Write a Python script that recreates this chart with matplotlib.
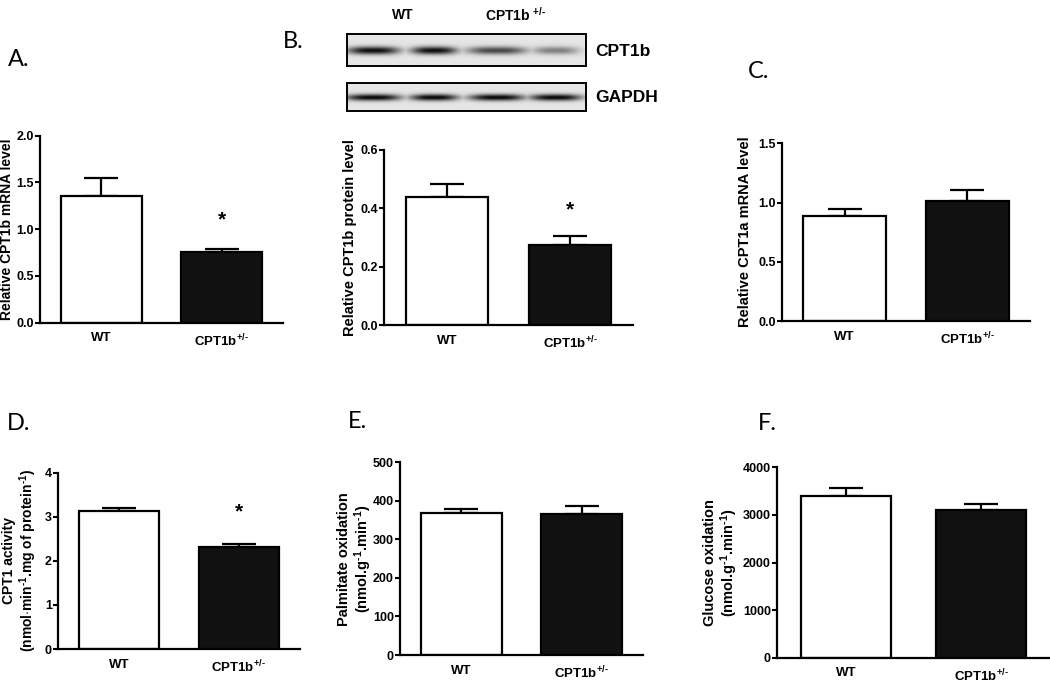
import numpy as np
import matplotlib
matplotlib.use("Agg")
import matplotlib.pyplot as plt

plt.rcParams["font.family"] = ["Liberation Sans", "DejaVu Sans"]
plt.rcParams["font.weight"] = "bold"
plt.rcParams["mathtext.fontset"] = "custom"
plt.rcParams["mathtext.rm"] = "Liberation Sans:bold"
plt.rcParams["mathtext.bf"] = "Liberation Sans:bold"
plt.rcParams["mathtext.default"] = "bf"

# ---- data ----
groups = ["WT", "CPT1b$^{+/\\text{-}}$"]

cpt1b_mrna = [1.36, 0.755]
cpt1b_mrna_err = [0.19, 0.033]

cpt1b_protein = [0.44, 0.274]
cpt1b_protein_err = [0.042, 0.032]

cpt1a_mrna = [0.889, 1.013]
cpt1a_mrna_err = [0.054, 0.09]

cpt1_activity = [3.13, 2.32]
cpt1_activity_err = [0.06, 0.06]

palmitate_ox = [369, 367]
palmitate_ox_err = [10, 19]

glucose_ox = [3397, 3103]
glucose_ox_err = [162, 126]

# western blot band intensities (relative darkness per lane)
cpt1b_bands = [0.95, 0.95, 0.70, 0.45]
gapdh_bands = [1.0, 1.0, 1.0, 1.0]

# ---- layout (pixels in a 1050x687 figure) ----
W, H = 1050, 687


def px_axes(left, right, top, bottom):
    return [left / W, (H - bottom) / H, (right - left) / W, (bottom - top) / H]


fig = plt.figure(figsize=(10.5, 6.87), dpi=100)


def bar_panel(rect, vals, errs, ylim, yticks, ylabel, yfmt, label_x,
              star=None, ylabel_size=10.5):
    ax = fig.add_axes(rect)
    x = np.arange(len(vals))
    ax.bar(x, vals, width=0.67, color=["white", "#111111"],
           edgecolor="black", linewidth=1.6, zorder=2)
    ax.errorbar(x, vals, yerr=[[0] * len(errs), errs], fmt="none",
                ecolor="black", elinewidth=1.6, capsize=12, capthick=1.6,
                zorder=1)
    if star is not None:
        ax.text(1, star, "*", ha="center", va="center", fontsize=15,
                fontweight="bold")
    ax.set_xlim(-0.51, 1.51)
    ax.set_ylim(*ylim)
    ax.set_yticks(yticks)
    ax.set_yticklabels([yfmt.format(t) for t in yticks])
    ax.set_xticks(x)
    ax.set_xticklabels(groups, fontsize=9.5, fontweight="bold")
    ax.tick_params(axis="x", length=0, pad=7)
    ax.tick_params(axis="y", length=3.5, width=1.5, pad=1, labelsize=9)
    for s in ["top", "right"]:
        ax.spines[s].set_visible(False)
    for s in ["left", "bottom"]:
        ax.spines[s].set_linewidth(1.6)
    ax.set_ylabel(ylabel, fontsize=ylabel_size, fontweight="bold",
                  linespacing=1.1)
    ax.yaxis.set_label_coords(label_x, 0.5)
    return ax


bar_panel(px_axes(40, 283, 135.7, 322.7), cpt1b_mrna, cpt1b_mrna_err,
          (0, 2.0), [0, 0.5, 1.0, 1.5, 2.0], "Relative CPT1b mRNA level",
          "{:.1f}", -0.105, star=1.10, ylabel_size=10)
bar_panel(px_axes(384, 633, 150, 325), cpt1b_protein, cpt1b_protein_err,
          (0, 0.6), [0, 0.2, 0.4, 0.6], "Relative CPT1b protein level",
          "{:.1f}", -0.11, star=0.394)
bar_panel(px_axes(782, 1030, 143.3, 321), cpt1a_mrna, cpt1a_mrna_err,
          (0, 1.5), [0, 0.5, 1.0, 1.5], "Relative CPT1a mRNA level",
          "{:.1f}", -0.12)
bar_panel(px_axes(58, 300, 472.7, 649), cpt1_activity, cpt1_activity_err,
          (0, 4), [0, 1, 2, 3, 4],
          "CPT1 activity\n(nmol$\\cdot$min$^{\\text{-}1}$.mg of protein$^{\\text{-}1}$)",
          "{:.0f}", -0.078, star=3.12, ylabel_size=10)
bar_panel(px_axes(400, 643, 462.3, 655), palmitate_ox, palmitate_ox_err,
          (0, 500), [0, 100, 200, 300, 400, 500],
          "Palmitate oxidation\n(nmol.g$^{\\text{-}1}$.min$^{\\text{-}1}$)",
          "{:.0f}", -0.108)
bar_panel(px_axes(777, 1050, 467.3, 657.7), glucose_ox, glucose_ox_err,
          (0, 4000), [0, 1000, 2000, 3000, 4000],
          "Glucose oxidation\n(nmol.g$^{\\text{-}1}$.min$^{\\text{-}1}$)",
          "{:.0f}", -0.135)

# ---- western blot strips ----
lane_centers = [26, 87, 150, 209]
cpt1b_halfw = [26, 23, 30, 23]
gapdh_halfw = [28, 24, 28, 26]


def blot(rect, bands, halfw, sigma_y):
    ax = fig.add_axes(rect)
    h, w = 32, 240
    yy, xx = np.mgrid[0:h, 0:w]
    dark = np.zeros((h, w))
    for cx, hw, a in zip(lane_centers, halfw, bands):
        prof_x = np.exp(-np.abs((xx - cx) / hw) ** 3)
        prof_y = np.exp(-((yy - h / 2) / sigma_y) ** 2)
        dark = np.maximum(dark, a * prof_x * prof_y)
    img = 0.90 - 0.88 * dark
    ax.imshow(img, cmap="gray", vmin=0, vmax=1, aspect="auto",
              interpolation="bilinear")
    ax.set_xticks([])
    ax.set_yticks([])
    for s in ax.spines.values():
        s.set_linewidth(1.4)
    return ax


blot(px_axes(347, 586, 34.3, 65.7), cpt1b_bands, cpt1b_halfw, 4.0)
blot(px_axes(347, 586, 83.3, 110.7), gapdh_bands, gapdh_halfw, 3.8)

fig.text(595 / W, 1 - 52 / H, "CPT1b", fontsize=12.5, fontweight="bold",
         ha="left", va="center")
fig.text(595 / W, 1 - 98 / H, "GAPDH", fontsize=12.5, fontweight="bold",
         ha="left", va="center")
fig.text(403 / W, 1 - 15 / H, "WT", fontsize=10, fontweight="bold",
         ha="center", va="center")
fig.text(485 / W, 1 - 15 / H, "CPT1b $^{+/\\text{-}}$", fontsize=10,
         fontweight="bold", ha="left", va="center")

# ---- panel letters ----
letters = ["A.", "B.", "C.", "D.", "E.", "F."]
letter_pos = [(8, 60), (283, 41), (748, 72), (7, 424), (348, 422), (758, 423)]
for lab, (lx, ly) in zip(letters, letter_pos):
    fig.text(lx / W, 1 - ly / H, lab, fontsize=17, fontweight="normal",
             family="Lato", ha="left", va="center")

fig.savefig("out.png", dpi=100)
